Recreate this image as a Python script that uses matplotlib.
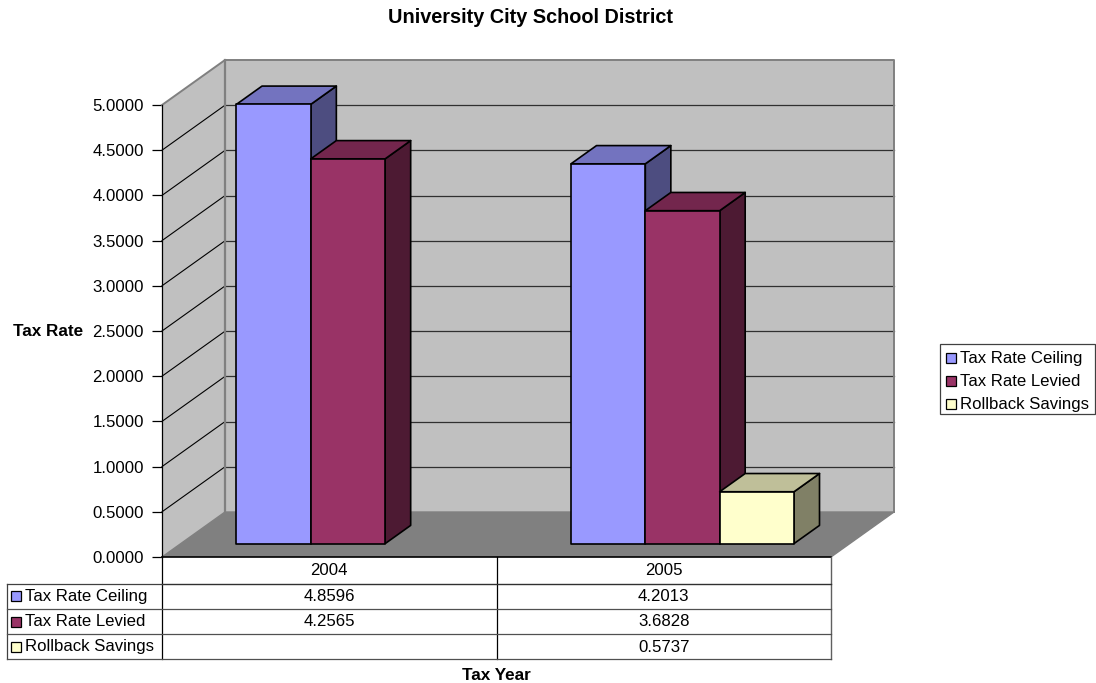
import matplotlib
matplotlib.use("Agg")
import matplotlib.pyplot as plt
from matplotlib.patches import Polygon, Rectangle
from matplotlib.lines import Line2D
from matplotlib.transforms import Affine2D

plt.rcParams['font.family'] = ['Liberation Sans', 'DejaVu Sans']

title = "University City School District"
x_title = "Tax Year"
y_title = "Tax Rate"
years = ["2004", "2005"]
series_names = ["Tax Rate Ceiling", "Tax Rate Levied", "Rollback Savings"]
ceiling = [4.8596, 4.2013]
levied = [4.2565, 3.6828]
rollback = [None, 0.5737]
series_values = [ceiling, levied, rollback]
y_ticks = [0, 0.5, 1, 1.5, 2, 2.5, 3, 3.5, 4, 4.5, 5]

front = ["#9999FF", "#993366", "#FFFFCC"]
top = ["#7373BF", "#73264D", "#BFBF99"]
side = ["#4D4D80", "#4D1A33", "#808066"]

W, H = 1096, 683
FS = 12.1
fig = plt.figure(figsize=(W / 100, H / 100), dpi=100, facecolor="white")
# front plane of the 3-D box, in pixels
L, R, Y0, Y5 = 162, 831, 557, 105
ax = fig.add_axes([L / W, 1 - Y0 / H, (R - L) / W, (Y0 - Y5) / H])
ax.set_xlim(0, len(years))
ax.set_ylim(0, 5)
ax.patch.set_visible(False)
for s in ["top", "right", "bottom"]:
    ax.spines[s].set_visible(False)
ax.spines["left"].set_linewidth(0.9)
ax.spines["left"].set_color("black")
ax.spines["left"].set_zorder(3)
ax.set_xticks([])
ax.set_yticks(y_ticks)
ax.set_yticklabels([f"{t:.4f}" for t in y_ticks], fontsize=FS, color="black")
ax.tick_params(axis="y", length=7, width=0.9, pad=6)

px_x = (R - L) / len(years)
px_y = (Y0 - Y5) / 5
DX, DY = 63 / px_x, 45 / px_y      # full depth in data units
BAR_DEPTH = 0.405
BAR_W = 1 / 4.5
GAP = 0.75 * BAR_W
n = len(years)


def poly(pts, fc, ec, lw, z):
    ax.add_patch(Polygon(pts, closed=True, facecolor=fc, edgecolor=ec, linewidth=lw,
                         zorder=z, clip_on=False, joinstyle="round"))


WALL = "#C0C0C0"
EDGE = "#808080"
# back wall, side wall, floor
poly([(DX, DY), (n + DX, DY), (n + DX, 5 + DY), (DX, 5 + DY)], WALL, "none", 0, 1)
poly([(0, 0), (DX, DY), (DX, 5 + DY), (0, 5)], WALL, "none", 0, 1)
poly([(0, 0), (n, 0), (n + DX, DY), (DX, DY)], "#808080", "none", 0, 1.5)
# gridlines
for t in y_ticks[1:-1]:
    ax.plot([DX, n + DX], [t + DY, t + DY], color="#303030", lw=0.9, zorder=2, clip_on=False)
    ax.plot([0, DX], [t, t + DY], color="black", lw=0.8, zorder=2, clip_on=False)
# gray wall edges, over the gridline ends
ax.plot([0, DX, n + DX, n + DX], [5, 5 + DY, 5 + DY, DY], color=EDGE, lw=1.4, zorder=2.5, clip_on=False)
ax.plot([DX, DX], [DY, 5 + DY], color=EDGE, lw=1.6, zorder=2.5, clip_on=False)
ax.plot([0, DX, n + DX], [0, DY, DY], color=EDGE, lw=1.0, zorder=2.5, clip_on=False)
ax.plot([n, n + DX], [0, DY], color=EDGE, lw=1.0, zorder=2.5, clip_on=False)
# floor front edge
ax.plot([0, n], [0, 0], color="black", lw=1.2, zorder=3, clip_on=False)

# bars
ox = (1 - BAR_DEPTH) / 2 * DX
oy = (1 - BAR_DEPTH) / 2 * DY
bx = BAR_DEPTH * DX
by = BAR_DEPTH * DY
z = 4
for i in range(n):
    for j, vals in enumerate(series_values):
        v = vals[i]
        if v is None:
            continue
        x0 = i + GAP + j * BAR_W + ox
        x1 = x0 + BAR_W
        y0 = oy
        y1 = oy + v
        poly([(x1, y0), (x1 + bx, y0 + by), (x1 + bx, y1 + by), (x1, y1)], side[j], "black", 1.2, z)
        poly([(x0, y1), (x1, y1), (x1 + bx, y1 + by), (x0 + bx, y1 + by)], top[j], "black", 1.2, z)
        poly([(x0, y0), (x1, y0), (x1, y1), (x0, y1)], front[j], "black", 1.2, z)
        z += 1

# figure-level pixel coordinates (top-down) for table, legend and titles
T = Affine2D().scale(1 / W, -1 / H).translate(0, 1) + fig.transFigure


def line(x0, y0, x1, y1, c="#404040", lw=0.9):
    fig.add_artist(Line2D([x0, x1], [y0, y1], color=c, lw=lw, transform=T))


def text(x, y, s, **kw):
    kw.setdefault("fontsize", FS)
    kw.setdefault("va", "center")
    fig.text(x, y, s, transform=T, color="black", **kw)


def swatch(x, y, c):
    fig.add_artist(Rectangle((x, y), 10, 10, facecolor=c, edgecolor="black", lw=0.9, transform=T))


# data table
rows_y = [583.5, 609, 634, 659]
MID = (L + R) / 2
TL = 7
line(L, Y0, L, rows_y[-1], "black", 0.9)
line(MID, Y0, MID, rows_y[-1], "black", 0.9)
line(R, Y0, R, rows_y[-1], "#606060", 1.0)
line(TL, rows_y[0], TL, rows_y[-1])
line(L, rows_y[0], R, rows_y[0], "#303030", 1.0)
line(TL, rows_y[0], L, rows_y[0])
for y in rows_y[1:]:
    line(TL, y, R, y, "#505050", 0.9)
for i, yr in enumerate(years):
    text(L + (i + 0.5) * px_x, (Y0 + rows_y[0]) / 2 + 0.5, yr, ha="center")
for j, name in enumerate(series_names):
    yc = (rows_y[j] + rows_y[j + 1]) / 2
    swatch(11, yc - 5, front[j])
    text(25, yc + 0.5, name, ha="left")
    for i in range(n):
        v = series_values[j][i]
        if v is not None:
            text(L + (i + 0.5) * px_x, yc + 0.5, f"{v:.4f}", ha="center")

# legend
fig.add_artist(Rectangle((939.5, 344), 155.5, 70, facecolor="white", edgecolor="#404040", lw=0.9, transform=T))
for j, name in enumerate(series_names):
    yc = 358 + j * 23
    swatch(946, yc - 5, front[j])
    text(960, yc + 0.5, name, ha="left")

# titles
text(531, 17.5, title, ha="center", fontweight="bold", fontsize=14.3)
text(83, 331.5, y_title, ha="right", fontweight="bold", fontsize=12.3)
text(496, 676, x_title, ha="center", fontweight="bold", fontsize=12.3)

fig.savefig("out.png", dpi=100, facecolor="white")
